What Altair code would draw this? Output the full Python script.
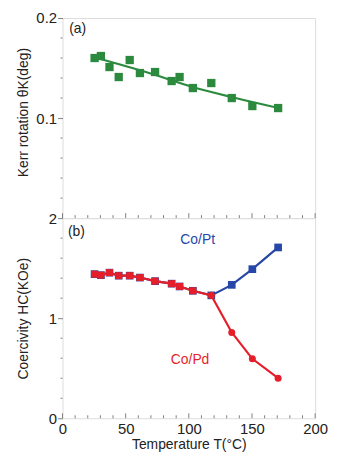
import altair as alt
import pandas as pd

# ---- data ----
temps = [25.4, 30.4, 37.2, 44.5, 53.2, 61.3, 73.3, 86.4, 92.7, 103.2, 117.8, 134.0, 150.3, 170.7]
kerr = [0.160, 0.162, 0.151, 0.141, 0.158, 0.145, 0.146, 0.137, 0.141, 0.130, 0.135, 0.120, 0.112, 0.110]
fit_t = [30, 66, 103, 137, 171]
fit_v = [0.159, 0.146, 0.131, 0.120, 0.110]
co_pd = [1.44, 1.43, 1.455, 1.425, 1.425, 1.406, 1.37, 1.345, 1.317, 1.274, 1.228, 0.857, 0.594, 0.40]
co_pt = [1.44, 1.43, 1.455, 1.425, 1.425, 1.406, 1.37, 1.345, 1.317, 1.274, 1.228, 1.333, 1.49, 1.707]
pd_shape = ["square"] * 10 + ["circle"] * 4

x_major = [0, 50, 100, 150, 200]
x_minor = [10, 20, 30, 40, 60, 70, 80, 90, 110, 120, 130, 140, 160, 170, 180, 190]
top_major = [0.1, 0.2]
top_minor = [0.02, 0.04, 0.06, 0.08, 0.12, 0.14, 0.16, 0.18]
bot_major = [0, 1, 2]
bot_minor = [0.2, 0.4, 0.6, 0.8, 1.2, 1.4, 1.6, 1.8]

ann_top = pd.DataFrame({"T": [12], "v": [0.189], "label": ["(a)"]})
ann_bot = pd.DataFrame({"T": [11, 107, 101], "v": [1.86, 1.78, 0.58],
                        "label": ["(b)", "Co/Pt", "Co/Pd"],
                        "color": ["#222222", "#2747a8", "#e51f2a"]})

FONT = "Liberation Sans"
GREEN = "#2b8a3e"
BLUE = "#2747a8"
RED = "#e51f2a"
AX = "#808080"
W, H = 255, 202

top_df = pd.DataFrame({"T": temps, "v": kerr})
fit_df = pd.DataFrame({"T": fit_t, "v": fit_v})
bot_df = pd.DataFrame({"T": temps, "pd": co_pd, "pt": co_pt, "shape": pd_shape})


def x_enc(show_labels):
    return alt.X("T:Q", scale=alt.Scale(domain=[0, 200], nice=False),
                 axis=alt.Axis(values=x_major, tickCount=40, labels=show_labels, ticks=False,
                               grid=False, domain=False,
                               labelOverlap=False, labelFlush=False,
                               labelFontSize=15, labelFont=FONT, labelColor="#222",
                               labelPadding=3,
                               title="Temperature   T(°C)" if show_labels else None,
                               titleFont=FONT, titleFontSize=14, titleFontWeight="normal",
                               titleColor="#222", titlePadding=2))


def y_axis(vals, fmt, title, ty):
    return alt.Axis(values=vals, tickCount=40, format=fmt, grid=False, domain=False,
                    tickColor=AX, tickSize=5,
                    labelOverlap=False, labelFlush=False,
                    labelFontSize=15, labelFont=FONT, labelColor="#222", labelPadding=1,
                    title=title, titleFont=FONT, titleFontSize=14,
                    titleFontWeight="normal", titleColor="#222",
                    titleX=-32, titleY=ty, titleAngle=270, titleBaseline="bottom")


def x_ticks_layer(vals, length):
    return alt.Chart(pd.DataFrame({"t": vals})).mark_rule(color=AX, strokeWidth=1).encode(
        x="t:Q", y=alt.value(H), y2=alt.value(H - length))


def y_ticks_layer(vals, length):
    return alt.Chart(pd.DataFrame({"t": vals})).mark_rule(color=AX, strokeWidth=1).encode(
        y="t:Q", x=alt.value(0), x2=alt.value(-length))


# ---- panel (a) ----
top_y = alt.Y("v:Q", scale=alt.Scale(domain=[0, 0.2], nice=False),
              axis=y_axis(top_major, ".1f", "Kerr rotation  θK(deg)", 95))
top_pts = alt.Chart(top_df).mark_square(size=70, color=GREEN, opacity=1).encode(x=x_enc(False), y=top_y)
top_line = alt.Chart(fit_df).mark_line(color=GREEN, strokeWidth=2.2, interpolate="monotone").encode(x="T:Q", y="v:Q")
top_txt = alt.Chart(ann_top).mark_text(font=FONT, fontSize=14, color="#222").encode(x="T:Q", y="v:Q", text="label:N")
top = alt.layer(
    top_line, top_pts, top_txt,
    x_ticks_layer(x_major, 5), x_ticks_layer(x_minor, 3), y_ticks_layer(top_minor, 2),
).properties(width=W, height=H)

# ---- panel (b) ----
bot_y = alt.Y("pt:Q", scale=alt.Scale(domain=[0, 2], nice=False),
              axis=y_axis(bot_major, ".0f", "Coercivity  HC(KOe)", 101))
pt_line = alt.Chart(bot_df).mark_line(color=BLUE, strokeWidth=2.2).encode(x=x_enc(True), y=bot_y)
pt_pts = alt.Chart(bot_df).mark_square(size=60, color=BLUE, opacity=1).encode(x="T:Q", y="pt:Q")
pd_line = alt.Chart(bot_df).mark_line(color=RED, strokeWidth=2.2).encode(x="T:Q", y="pd:Q")
pd_pts = alt.Chart(bot_df).mark_point(size=50, color=RED, filled=True, opacity=1).encode(
    x="T:Q", y="pd:Q",
    shape=alt.Shape("shape:N", scale=alt.Scale(domain=["square", "circle"], range=["square", "circle"]), legend=None))
bot_txt = alt.Chart(ann_bot).mark_text(font=FONT, fontSize=14).encode(
    x="T:Q", y="v:Q", text="label:N", color=alt.Color("color:N", scale=None))
bot = alt.layer(
    pt_line, pt_pts, pd_line, pd_pts, bot_txt,
    x_ticks_layer(x_major, 5), x_ticks_layer(x_minor, 3), y_ticks_layer(bot_minor, 2),
).properties(width=W, height=H)

chart = alt.vconcat(top, bot, spacing=0, bounds="flush").properties(
    padding={"left": 8, "top": 0, "right": 0, "bottom": 0}
).configure_view(stroke=AX, strokeWidth=1.2).configure(background="white")

chart.save("out.html", embed_options={"renderer": "svg", "actions": False})
